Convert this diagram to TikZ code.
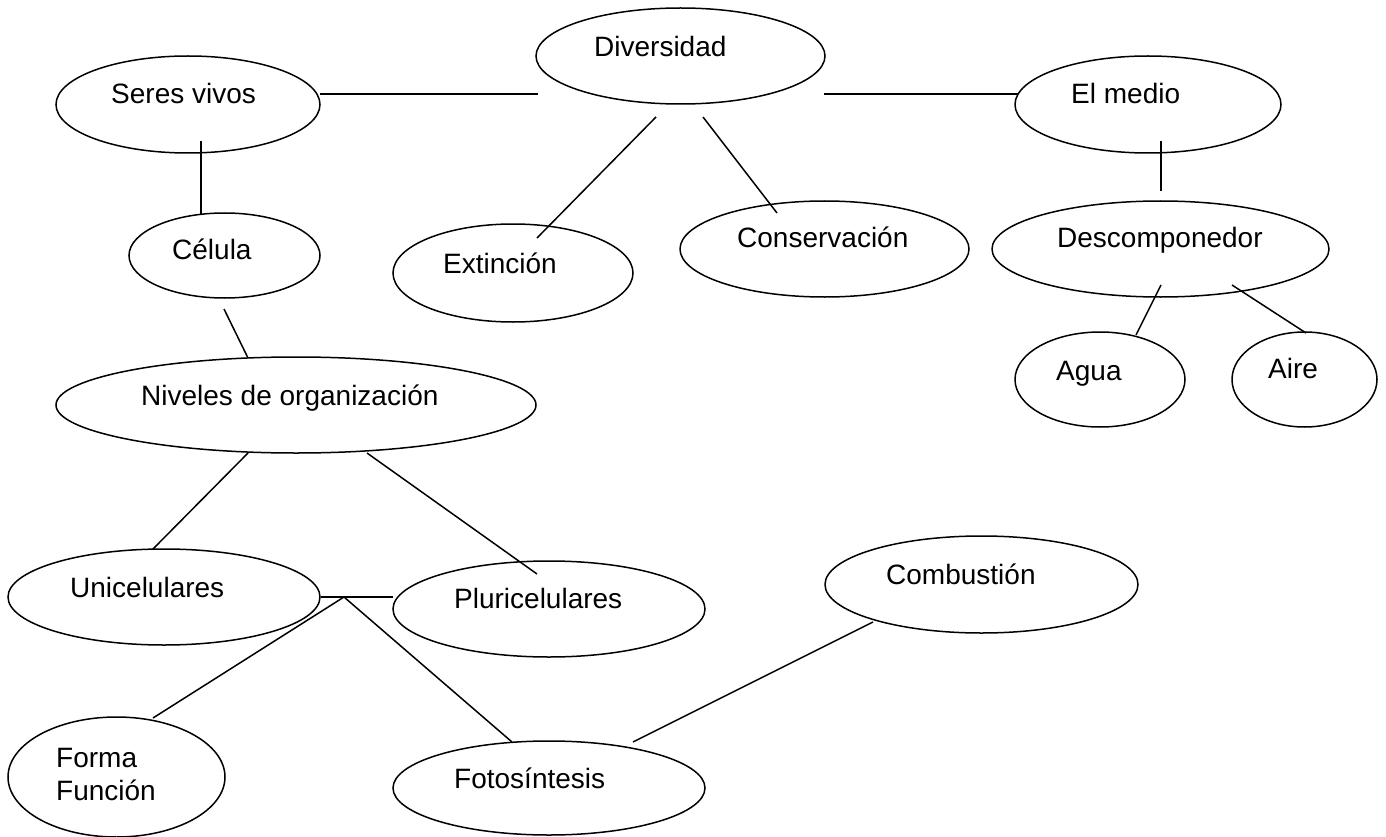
\documentclass[tikz,border=0pt]{standalone}
\usepackage{fontspec}
\setmainfont{Liberation Sans}
\usetikzlibrary{shapes.geometric,calc}
\tikzset{
  oval/.style={ellipse, draw, line width=1.5pt, inner sep=0pt},
  txt/.style={anchor=base west, inner sep=0pt, font=\fontsize{28}{33}\selectfont},
  link/.style={line width=1.5pt}
}
\begin{document}
\begin{tikzpicture}[x=1pt,y=-1pt]
\useasboundingbox (0,0) rectangle (1386,837);

% concept ovals
\node[oval, minimum width=264pt, minimum height=97pt] (sv) at (188,104.5) {};
\node[oval, minimum width=289pt, minimum height=96pt] (dv) at (680.5,56) {};
\node[oval, minimum width=266pt, minimum height=97pt] (em) at (1148,104.5) {};
\node[oval, minimum width=191pt, minimum height=85pt] (ce) at (224.5,255.5) {};
\node[oval, minimum width=240pt, minimum height=98pt] (ex) at (513,273) {};
\node[oval, minimum width=289pt, minimum height=96pt] (cs) at (824.5,249) {};
\node[oval, minimum width=337pt, minimum height=96pt] (de) at (1160.5,249) {};
\node[oval, minimum width=170pt, minimum height=95pt] (ag) at (1100,379.5) {};
\node[oval, minimum width=145pt, minimum height=95pt] (ai) at (1304.5,379.5) {};
\node[oval, minimum width=480pt, minimum height=96pt] (ni) at (296,405) {};
\node[oval, minimum width=312pt, minimum height=96pt] (un) at (164,597) {};
\node[oval, minimum width=312pt, minimum height=96pt] (pl) at (549,609) {};
\node[oval, minimum width=313pt, minimum height=97pt] (co) at (981.5,584.5) {};
\node[oval, minimum width=217pt, minimum height=120pt] (ff) at (116.5,777) {};
\node[oval, minimum width=312pt, minimum height=94pt] (fo) at (549,788) {};

% labels
\node[txt] (svt) at ($(sv)+(-77,-0.5)$) {Seres vivos};
\node[txt] (dvt) at ($(dv)+(-86.5,1)$) {Diversidad};
\node[txt] (emt) at ($(em)+(-77,-0.5)$) {El medio};
\node[txt] (cet) at ($(ce)+(-52.5,3.5)$) {Célula};
\node[txt] (ext) at ($(ex)+(-70,0)$) {Extinción};
\node[txt] (cst) at ($(cs)+(-87.5,-2)$) {Conservación};
\node[txt] (det) at ($(de)+(-103.5,-2)$) {Descomponedor};
\node[txt] (agt) at ($(ag)+(-44,0.5)$) {Agua};
\node[txt] (ait) at ($(ai)+(-36.5,-1.5)$) {Aire};
\node[txt] (nit) at ($(ni)+(-155,0)$) {Niveles de organización};
\node[txt] (unt) at ($(un)+(-94,0)$) {Unicelulares};
\node[txt] (plt) at ($(pl)+(-95,-1)$) {Pluricelulares};
\node[txt] (cot) at ($(co)+(-95.5,-0.5)$) {Combustión};
\node[txt] (fft1) at ($(ff)+(-60.5,-10)$) {Forma};
\node[txt] (fft2) at ($(ff)+(-60.5,23)$) {Función};
\node[txt] (fot) at ($(fo)+(-95,0)$) {Fotosíntesis};

% connectors
\draw[link] ($(sv)+(132,-10.5)$) -- ($(dv)+(-142.5,38)$);
\draw[link] ($(dv)+(143.5,38)$) -- ($(em)+(-130,-10.5)$);
\draw[link] ($(dv)+(-24.5,61)$) -- ($(ex)+(24,-35)$);
\draw[link] ($(dv)+(22.5,61)$) -- ($(cs)+(-47.5,-36)$);
\draw[link] ($(sv)+(13,36.5)$) -- ($(ce)+(-23.5,-41.5)$);
\draw[link] ($(em)+(13,36.5)$) -- ($(de)+(0.5,-58)$);
\draw[link] ($(de)+(0.5,36)$) -- ($(ag)+(36,-44.5)$);
\draw[link] ($(de)+(71.5,36)$) -- ($(ai)+(1.5,-46.5)$);
\draw[link] ($(ce)+(-0.5,53.5)$) -- ($(ni)+(-48,-47)$);
\draw[link] ($(ni)+(-48,48)$) -- ($(un)+(-11,-48)$);
\draw[link] ($(ni)+(71,48)$) -- ($(pl)+(-12,-35)$);
\draw[link] ($(un)+(157,0)$) -- ($(pl)+(-156,-12)$);
\coordinate (j) at ($(un)+(180,0)$);
\draw[link] (j) -- ($(ff)+(36.5,-59)$);
\draw[link] (j) -- ($(fo)+(-37,-46)$);
\draw[link] ($(fo)+(84,-46)$) -- ($(co)+(-108.5,37.5)$);
\end{tikzpicture}
\end{document}
